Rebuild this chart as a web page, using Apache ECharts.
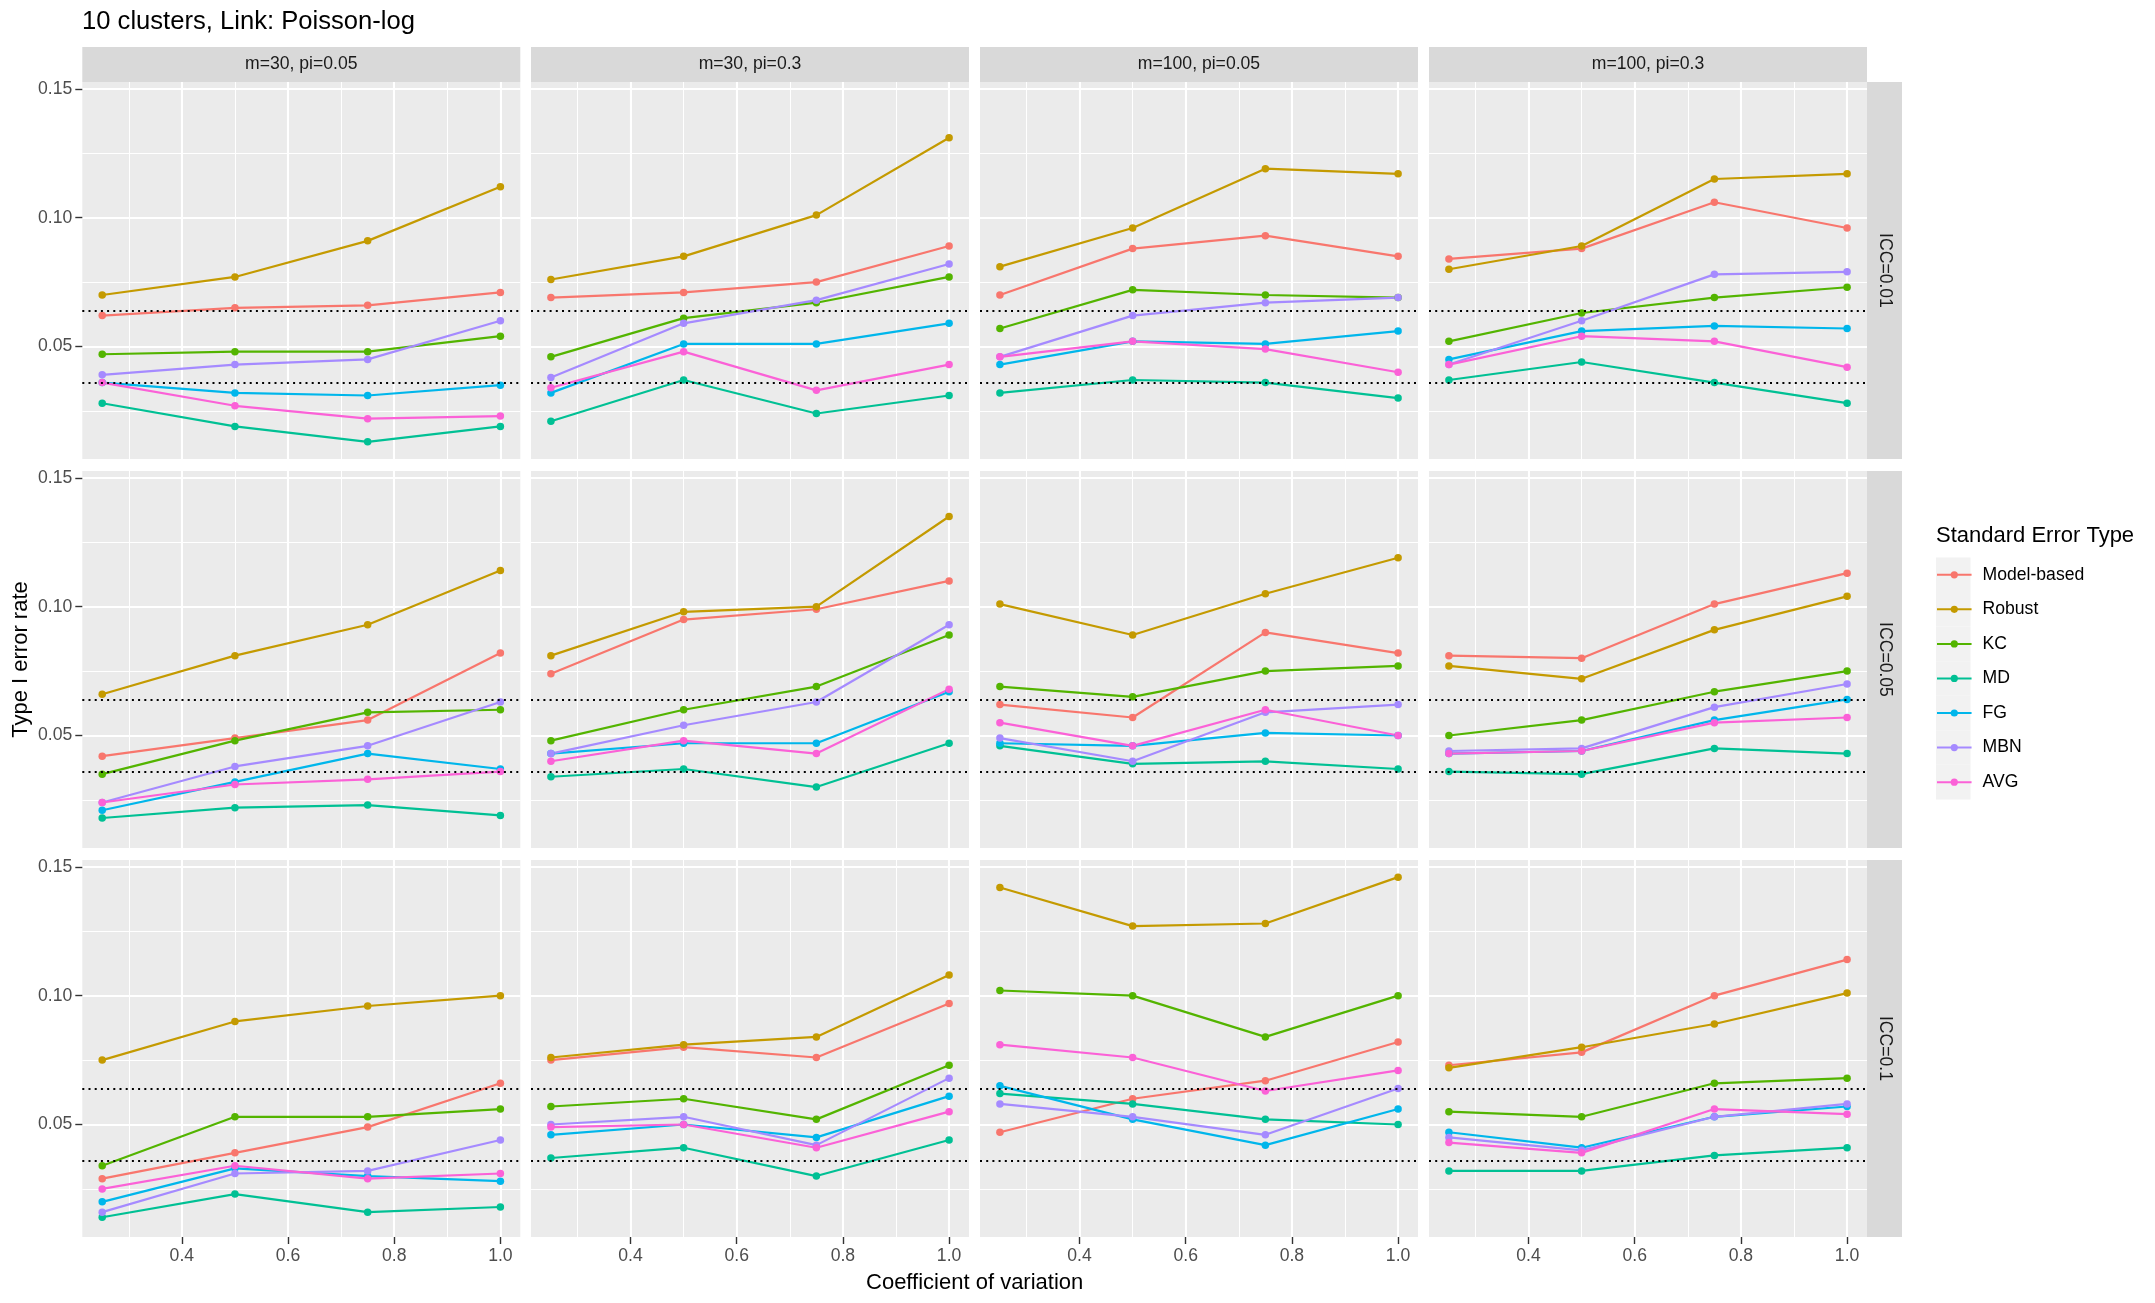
<!DOCTYPE html>
<html>
<head>
<meta charset="utf-8">
<script src="https://cdn.jsdelivr.net/npm/echarts@6/dist/echarts.min.js"></script>
<style>html,body{margin:0;padding:0;background:#fff}#c{width:2155px;height:1303px}</style>
</head>
<body>
<div id="c"></div>
<script>
// ---------- data ----------
const cv = [0.25, 0.5, 0.75, 1.0];
const seTypes = ['Model-based', 'Robust', 'KC', 'MD', 'FG', 'MBN', 'AVG'];
const colLabels = ['m=30, pi=0.05', 'm=30, pi=0.3', 'm=100, pi=0.05', 'm=100, pi=0.3'];
const rowLabels = ['ICC=0.01', 'ICC=0.05', 'ICC=0.1'];
// each array: 12 panels (row-major: ICC rows x m/pi columns), 4 values per panel
const modelBased = [
  [0.062,0.065,0.066,0.071],[0.069,0.071,0.075,0.089],[0.070,0.088,0.093,0.085],[0.084,0.088,0.106,0.096],
  [0.042,0.049,0.056,0.082],[0.074,0.095,0.099,0.110],[0.062,0.057,0.090,0.082],[0.081,0.080,0.101,0.113],
  [0.029,0.039,0.049,0.066],[0.075,0.080,0.076,0.097],[0.047,0.060,0.067,0.082],[0.073,0.078,0.100,0.114]];
const robust = [
  [0.070,0.077,0.091,0.112],[0.076,0.085,0.101,0.131],[0.081,0.096,0.119,0.117],[0.080,0.089,0.115,0.117],
  [0.066,0.081,0.093,0.114],[0.081,0.098,0.100,0.135],[0.101,0.089,0.105,0.119],[0.077,0.072,0.091,0.104],
  [0.075,0.090,0.096,0.100],[0.076,0.081,0.084,0.108],[0.142,0.127,0.128,0.146],[0.072,0.080,0.089,0.101]];
const kc = [
  [0.047,0.048,0.048,0.054],[0.046,0.061,0.067,0.077],[0.057,0.072,0.070,0.069],[0.052,0.063,0.069,0.073],
  [0.035,0.048,0.059,0.060],[0.048,0.060,0.069,0.089],[0.069,0.065,0.075,0.077],[0.050,0.056,0.067,0.075],
  [0.034,0.053,0.053,0.056],[0.057,0.060,0.052,0.073],[0.102,0.100,0.084,0.100],[0.055,0.053,0.066,0.068]];
const md = [
  [0.028,0.019,0.013,0.019],[0.021,0.037,0.024,0.031],[0.032,0.037,0.036,0.030],[0.037,0.044,0.036,0.028],
  [0.018,0.022,0.023,0.019],[0.034,0.037,0.030,0.047],[0.046,0.039,0.040,0.037],[0.036,0.035,0.045,0.043],
  [0.014,0.023,0.016,0.018],[0.037,0.041,0.030,0.044],[0.062,0.058,0.052,0.050],[0.032,0.032,0.038,0.041]];
const fg = [
  [0.036,0.032,0.031,0.035],[0.032,0.051,0.051,0.059],[0.043,0.052,0.051,0.056],[0.045,0.056,0.058,0.057],
  [0.021,0.032,0.043,0.037],[0.043,0.047,0.047,0.067],[0.047,0.046,0.051,0.050],[0.043,0.044,0.056,0.064],
  [0.020,0.033,0.030,0.028],[0.046,0.050,0.045,0.061],[0.065,0.052,0.042,0.056],[0.047,0.041,0.053,0.057]];
const mbn = [
  [0.039,0.043,0.045,0.060],[0.038,0.059,0.068,0.082],[0.046,0.062,0.067,0.069],[0.043,0.060,0.078,0.079],
  [0.024,0.038,0.046,0.063],[0.043,0.054,0.063,0.093],[0.049,0.040,0.059,0.062],[0.044,0.045,0.061,0.070],
  [0.016,0.031,0.032,0.044],[0.050,0.053,0.042,0.068],[0.058,0.053,0.046,0.064],[0.045,0.040,0.053,0.058]];
const avg = [
  [0.036,0.027,0.022,0.023],[0.034,0.048,0.033,0.043],[0.046,0.052,0.049,0.040],[0.043,0.054,0.052,0.042],
  [0.024,0.031,0.033,0.036],[0.040,0.048,0.043,0.068],[0.055,0.046,0.060,0.050],[0.043,0.044,0.055,0.057],
  [0.025,0.034,0.029,0.031],[0.049,0.050,0.041,0.055],[0.081,0.076,0.063,0.071],[0.043,0.039,0.056,0.054]];
const refLines = [0.036, 0.064];
const xMajorTicks = [0.4, 0.6, 0.8, 1.0];
const xMinorTicks = [0.3, 0.5, 0.7, 0.9];
const yMajorTicks = [0.05, 0.10, 0.15];
const yMinorTicks = [0.025, 0.075, 0.125];
const titleText = '10 clusters, Link: Poisson-log';
const xTitle = 'Coefficient of variation';
const yTitle = 'Type I error rate';
const legendTitle = 'Standard Error Type';

// ---------- styling / layout ----------
const seriesData = [modelBased, robust, kc, md, fg, mbn, avg];
const colors = ['#F8766D', '#C49A00', '#53B400', '#00C094', '#00B6EB', '#A58AFF', '#FB61D7'];
const FONT = 'Liberation Sans, Arial, sans-serif';
const panelLeft = [82.3, 531, 980, 1429];
const panelTop = [82, 471, 860];
const panelW = 438, panelH = 377;
const stripH = 35, stripW = 35;

const allVals = seriesData.flat(2);
const yLo = Math.min(...allVals), yHi = Math.max(...allVals);
const yMin = yLo - 0.05 * (yHi - yLo), yMax = yHi + 0.05 * (yHi - yLo);
const xLo = Math.min(...cv), xHi = Math.max(...cv);
const xMin = xLo - 0.05 * (xHi - xLo), xMax = xHi + 0.05 * (xHi - xLo);

const grids = [], xAxes = [], yAxes = [], series = [], graphics = [];
for (let r = 0; r < 3; r++) {
  for (let c = 0; c < 4; c++) {
    const g = r * 4 + c;
    grids.push({left: panelLeft[c], top: panelTop[r], width: panelW, height: panelH,
      show: true, backgroundColor: '#EBEBEB', borderWidth: 0, containLabel: false});
    // major x axis
    xAxes.push({type: 'value', gridIndex: g, min: xMin, max: xMax, position: 'bottom',
      axisLine: {show: false},
      axisTick: {show: r === 2, length: 7, customValues: xMajorTicks, lineStyle: {color: '#333333', width: 1.4}},
      axisLabel: {show: r === 2, customValues: xMajorTicks, margin: 10, color: '#4D4D4D', fontSize: 17.6,
        fontFamily: FONT, formatter: v => v.toFixed(1)},
      splitLine: {show: true, lineStyle: {color: '#FFFFFF', width: 2.1}}});
    // minor x axis
    xAxes.push({type: 'value', gridIndex: g, min: xMin, max: xMax, position: 'top',
      axisLine: {show: false},
      axisTick: {show: false, customValues: xMinorTicks},
      axisLabel: {show: false, customValues: xMinorTicks},
      splitLine: {show: true, lineStyle: {color: '#FFFFFF', width: 1.05}}});
    yAxes.push({type: 'value', gridIndex: g, min: yMin, max: yMax, position: 'left',
      axisLine: {show: false},
      axisTick: {show: c === 0, length: 7, customValues: yMajorTicks, lineStyle: {color: '#333333', width: 1.4}},
      axisLabel: {show: c === 0, customValues: yMajorTicks, margin: 10, color: '#4D4D4D', fontSize: 17.6,
        fontFamily: FONT, formatter: v => v.toFixed(2)},
      splitLine: {show: true, lineStyle: {color: '#FFFFFF', width: 2.1}}});
    yAxes.push({type: 'value', gridIndex: g, min: yMin, max: yMax, position: 'right',
      axisLine: {show: false},
      axisTick: {show: false, customValues: yMinorTicks},
      axisLabel: {show: false, customValues: yMinorTicks},
      splitLine: {show: true, lineStyle: {color: '#FFFFFF', width: 1.05}}});
    seTypes.forEach((name, t) => {
      const s = {type: 'line', name: name, xAxisIndex: 2 * g, yAxisIndex: 2 * g,
        data: cv.map((x, i) => [x, seriesData[t][g][i]]),
        symbol: 'circle', symbolSize: 7.5, showSymbol: true,
        lineStyle: {color: colors[t], width: 2.2}, itemStyle: {color: colors[t]},
        emphasis: {disabled: true}, z: 2};
      if (t === seTypes.length - 1) {
        s.markLine = {silent: true, precision: 6, symbol: ['none', 'none'], label: {show: false},
          lineStyle: {color: '#000000', type: [2, 4.2], width: 2.1},
          data: refLines.map(v => ({yAxis: v}))};
      }
      series.push(s);
    });
  }
}
// strips
colLabels.forEach((lab, c) => {
  graphics.push({type: 'rect', shape: {x: panelLeft[c], y: panelTop[0] - stripH, width: panelW, height: stripH},
    style: {fill: '#D9D9D9'}, silent: true});
  graphics.push({type: 'text', x: panelLeft[c] + panelW / 2, y: panelTop[0] - stripH / 2, silent: true,
    style: {text: lab, fontSize: 17.6, fontFamily: FONT, fill: '#1A1A1A', align: 'center', verticalAlign: 'middle'}});
});
rowLabels.forEach((lab, r) => {
  const x0 = panelLeft[3] + panelW;
  graphics.push({type: 'rect', shape: {x: x0, y: panelTop[r], width: stripW, height: panelH},
    style: {fill: '#D9D9D9'}, silent: true});
  graphics.push({type: 'text', x: x0 + stripW / 2, y: panelTop[r] + panelH / 2, rotation: -Math.PI / 2, silent: true,
    style: {text: lab, fontSize: 17.6, fontFamily: FONT, fill: '#1A1A1A', align: 'center', verticalAlign: 'middle'}});
});
// axis titles
graphics.push({type: 'text', x: (panelLeft[0] + panelLeft[3] + panelW) / 2, y: 1283, silent: true,
  style: {text: xTitle, fontSize: 22, fontFamily: FONT, fill: '#000', align: 'center', verticalAlign: 'middle'}});
graphics.push({type: 'text', x: 21, y: (panelTop[0] + panelTop[2] + panelH) / 2, rotation: Math.PI / 2, silent: true,
  style: {text: yTitle, fontSize: 22, fontFamily: FONT, fill: '#000', align: 'center', verticalAlign: 'middle'}});
// legend key backgrounds
const legLeft = 1936, legTop = 557.5, keySize = 34.56;
seTypes.forEach((n, i) => {
  graphics.push({type: 'rect', shape: {x: legLeft, y: legTop + i * keySize, width: keySize, height: keySize},
    style: {fill: '#F2F2F2'}, silent: true, z: -1});
});

const chart = echarts.init(document.getElementById('c'), null, {renderer: 'canvas'});
chart.setOption({
  animation: false,
  backgroundColor: '#FFFFFF',
  textStyle: {fontFamily: FONT},
  title: [
    {text: titleText, left: 82, top: 9, padding: 0,
      textStyle: {fontSize: 25.6, fontWeight: 'normal', color: '#000', fontFamily: FONT}},
    {text: legendTitle, left: legLeft, top: 525, padding: 0,
      textStyle: {fontSize: 22, fontWeight: 'normal', color: '#000', fontFamily: FONT}}
  ],
  legend: {data: seTypes, orient: 'vertical', left: legLeft, top: legTop, padding: 0,
    itemWidth: keySize, itemHeight: 9, itemGap: 0,
    textStyle: {fontSize: 17.6, color: '#000', fontFamily: FONT, lineHeight: keySize, padding: [0, 0, 0, 6]}},
  grid: grids,
  xAxis: xAxes,
  yAxis: yAxes,
  series: series,
  graphic: graphics
});
</script>
</body>
</html>
